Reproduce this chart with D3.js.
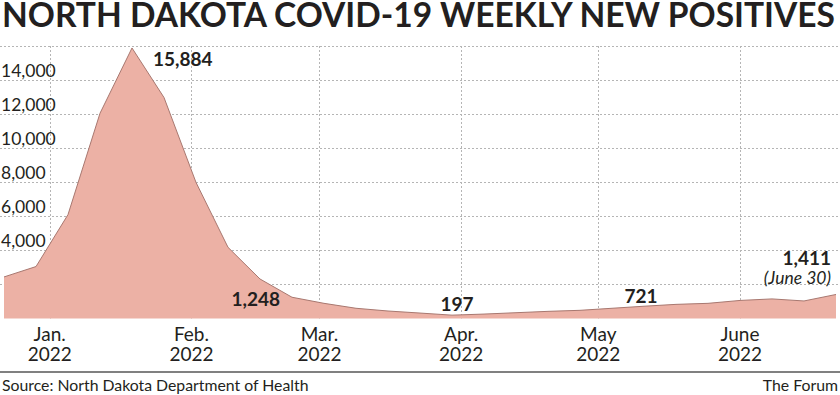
<!DOCTYPE html>
<html lang="en">

<head>
    <meta charset="UTF-8">
    <title>North Dakota COVID-19 weekly new positives</title>
    <script src="https://d3js.org/d3.v7.min.js"></script>
    <style>
        body {
            margin: 0;
            background: #fff;
        }

        svg text {
            font-family: Lato, "Open Sans", sans-serif;
            fill: #231f20;
        }

        .grid line {
            stroke: #b5b5b5;
            stroke-width: 1px;
            stroke-dasharray: 2 2;
        }

        .note {
            font-weight: 700;
            font-size: 19px;
        }
    </style>
</head>

<body>
    <div id="chart"></div>

    <script>
        // weekly totals
        const weeks = [
            "2021-12-22", "2021-12-29", "2022-01-05", "2022-01-12", "2022-01-19", "2022-01-26",
            "2022-02-02", "2022-02-09", "2022-02-16", "2022-02-23", "2022-03-02", "2022-03-09",
            "2022-03-16", "2022-03-23", "2022-03-30", "2022-04-06", "2022-04-13", "2022-04-20",
            "2022-04-27", "2022-05-04", "2022-05-11", "2022-05-18", "2022-05-25", "2022-06-01",
            "2022-06-08", "2022-06-15", "2022-06-22"
        ];
        const positives = [
            2440, 3050, 6100, 12050, 15884, 12975,
            7990, 4180, 2320, 1248, 890, 600,
            440, 320, 197, 260, 340, 420,
            480, 600, 721, 830, 890, 1060,
            1150, 1030, 1411
        ];
        const yGrid = [2000, 4000, 6000, 8000, 10000, 12000, 14000, 16000];
        const yLabels = [4000, 6000, 8000, 10000, 12000, 14000];
        const monthLabels = ["Jan.", "Feb.", "Mar.", "Apr.", "May", "June"];
        const yearLabel = "2022";
        // annotated weeks (index into positives)
        const notes = [4, 9, 14, 20, 26];

        const width = 840;
        const height = 395;
        const parse = d3.timeParse("%Y-%m-%d");
        const data = weeks.map((w, i) => ({ date: parse(w), value: positives[i] }));

        const x = d3.scaleTime()
            .domain(d3.extent(data, d => d.date))
            .range([4, 836]);
        const y = d3.scaleLinear()
            .domain([0, 16000])
            .range([318.5, 46]);

        const svg = d3.select("#chart").append("svg")
            .attr("width", width)
            .attr("height", height);

        // title
        svg.append("text")
            .attr("x", 2)
            .attr("y", 26.5)
            .attr("font-size", 34)
            .attr("font-weight", 700)
            .attr("textLength", 833)
            .attr("lengthAdjust", "spacingAndGlyphs")
            .text("NORTH DAKOTA COVID-19 WEEKLY NEW POSITIVES");

        const months = x.ticks(d3.timeMonth.every(1));

        const grid = svg.append("g").attr("class", "grid");
        grid.selectAll(".h")
            .data(yGrid)
            .enter().append("line")
            .attr("x1", 0)
            .attr("x2", width)
            .attr("y1", d => Math.round(y(d)) + 0.5)
            .attr("y2", d => Math.round(y(d)) + 0.5);
        grid.selectAll(".v")
            .data(months)
            .enter().append("line")
            .attr("x1", d => Math.round(x(d)) + 0.5)
            .attr("x2", d => Math.round(x(d)) + 0.5)
            .attr("y1", y(16000))
            .attr("y2", y(0));

        svg.selectAll(".ylab")
            .data(yLabels)
            .enter().append("text")
            .attr("x", 1)
            .attr("y", d => y(d) - 3)
            .attr("font-size", 17.5)
            .text(d => d3.format(",")(d));

        const area = d3.area()
            .x(d => x(d.date))
            .y0(y(0))
            .y1(d => y(d.value));
        const line = d3.line()
            .x(d => x(d.date))
            .y(d => y(d.value));

        svg.append("path")
            .datum(data)
            .attr("d", area)
            .attr("fill", "#ecb1a5")
            .attr("stroke", "none");
        svg.append("path")
            .datum(data)
            .attr("d", line)
            .attr("fill", "none")
            .attr("stroke", "#a87870")
            .attr("stroke-width", 1);

        // month axis
        const mlab = svg.selectAll(".month")
            .data(months)
            .enter().append("g")
            .attr("transform", d => `translate(${x(d)},0)`);
        mlab.append("text")
            .attr("y", 341)
            .attr("text-anchor", "middle")
            .attr("font-size", 19)
            .text((d, i) => monthLabels[i]);
        mlab.append("text")
            .attr("y", 361)
            .attr("text-anchor", "middle")
            .attr("font-size", 19)
            .text(yearLabel);

        // annotations
        const fmt = d3.format(",");
        const place = {
            4: { dx: 21, dy: 18, anchor: "start" },
            9: { dx: -12, dy: 9, anchor: "end" },
            14: { dx: 5, dy: -4, anchor: "middle" },
            20: { dx: -3, dy: -3, anchor: "middle" },
            26: { dx: -5, dy: -29, anchor: "end" }
        };
        notes.forEach(i => {
            const p = place[i];
            svg.append("text")
                .attr("class", "note")
                .attr("x", x(data[i].date) + p.dx)
                .attr("y", y(data[i].value) + p.dy)
                .attr("text-anchor", p.anchor)
                .text(fmt(data[i].value));
        });
        svg.append("text")
            .attr("x", x(data[26].date) - 5)
            .attr("y", y(data[26].value) - 10)
            .attr("text-anchor", "end")
            .attr("font-size", 17.5)
            .attr("font-style", "italic")
            .text("(June 30)");

        // footer
        svg.append("line")
            .attr("x1", 0)
            .attr("x2", width)
            .attr("y1", 372)
            .attr("y2", 372)
            .attr("stroke", "#808080")
            .attr("stroke-width", 2);
        svg.append("text")
            .attr("x", 2)
            .attr("y", 391)
            .attr("font-size", 15.8)
            .text("Source: North Dakota Department of Health");
        svg.append("text")
            .attr("x", 838)
            .attr("y", 391)
            .attr("font-size", 15.8)
            .attr("text-anchor", "end")
            .text("The Forum");
    </script>
</body>

</html>
